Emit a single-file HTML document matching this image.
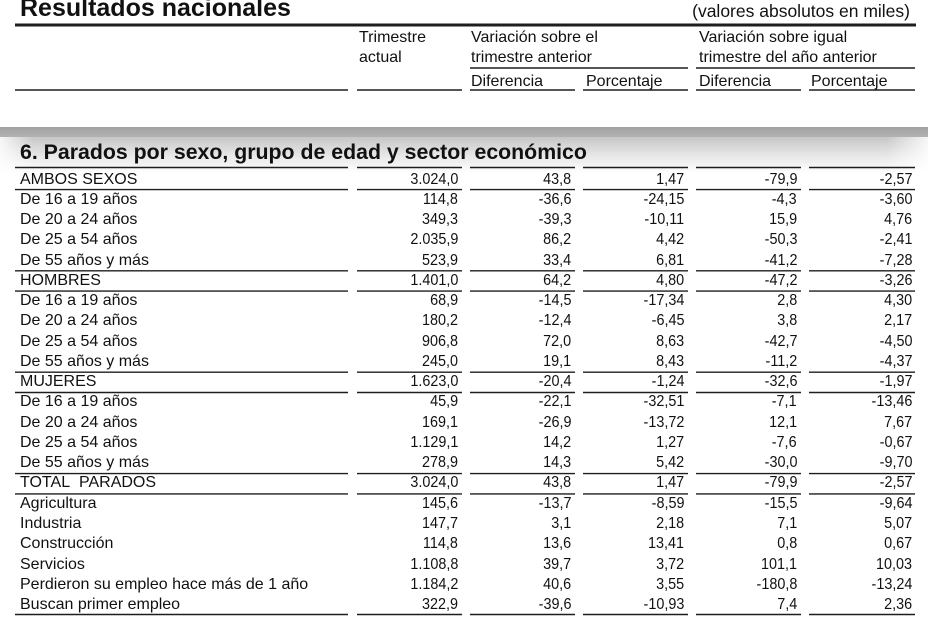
<!DOCTYPE html>
<html>
<head>
<meta charset="utf-8">
<style>
  html, body { margin:0; padding:0; }
  body { width:928px; height:621px; position:relative; overflow:hidden; background:#fff;
         font-family:"Liberation Sans", Arial, sans-serif; color:#111; }
  .abs { position:absolute; white-space:nowrap; }
  .h { font-size:16px; line-height:20px; }
  #rows { position:absolute; left:0; top:169.5px; width:928px; }
  .r { position:relative; height:20.28px; }
  .r div { position:absolute; top:0; height:20.28px; line-height:20px; white-space:nowrap; }
  .l { left:20px; font-size:16px; }
  .n { font-size:16px; text-align:right; }
  .n span { display:inline-block; transform:scaleX(0.9); transform-origin:right center; }
  .c1 { left:357px; width:101px; }
  .c2 { left:470px; width:101px; }
  .c3 { left:583px; width:101px; }
  .c4 { left:696px; width:101px; }
  .c5 { left:809px; width:103px; }
</style>
</head>
<body>

<svg class="abs" style="left:0;top:0" width="928" height="621" viewBox="0 0 928 621">
  <defs>
    <linearGradient id="g1" x1="0" y1="0" x2="0" y2="1">
      <stop offset="0" stop-color="#a2a2a2"/>
      <stop offset="1" stop-color="#b2b2b2"/>
    </linearGradient>
    <linearGradient id="g2" x1="0" y1="0" x2="0" y2="1">
      <stop offset="0" stop-color="#c6c6c6"/>
      <stop offset="0.5" stop-color="#e6e6e6"/>
      <stop offset="1" stop-color="#ffffff"/>
    </linearGradient>
    <linearGradient id="gl" x1="0" y1="0" x2="1" y2="0">
      <stop offset="0" stop-color="#fff" stop-opacity="0.85"/>
      <stop offset="1" stop-color="#fff" stop-opacity="0"/>
    </linearGradient>
    <linearGradient id="gr" x1="0" y1="0" x2="1" y2="0">
      <stop offset="0" stop-color="#fff" stop-opacity="0"/>
      <stop offset="1" stop-color="#fff" stop-opacity="0.85"/>
    </linearGradient>
  </defs>
  <rect x="0" y="127" width="928" height="10" fill="url(#g1)"/>
  <rect x="0" y="137" width="928" height="36" fill="url(#g2)"/>
  <rect x="0" y="137" width="34" height="36" fill="url(#gl)"/>
  <rect x="886" y="137" width="42" height="36" fill="url(#gr)"/>

  <g stroke="#1e1e1e" fill="none">
    <line x1="15" y1="25" x2="916" y2="25" stroke-width="3"/>
    <line x1="470" y1="68" x2="688" y2="68" stroke-width="1.4"/>
    <line x1="696" y1="68" x2="915" y2="68" stroke-width="1.4"/>
  </g>
  <g stroke="#1e1e1e" stroke-width="1.4">
    <line x1="15" y1="90" x2="348" y2="90"/><line x1="357" y1="90" x2="462" y2="90"/>
    <line x1="470" y1="90" x2="575" y2="90"/><line x1="583" y1="90" x2="688" y2="90"/>
    <line x1="696" y1="90" x2="801" y2="90"/><line x1="809" y1="90" x2="915" y2="90"/>

    <line x1="15" y1="167.5" x2="348" y2="167.5"/><line x1="357" y1="167.5" x2="462" y2="167.5"/>
    <line x1="470" y1="167.5" x2="575" y2="167.5"/><line x1="583" y1="167.5" x2="688" y2="167.5"/>
    <line x1="696" y1="167.5" x2="801" y2="167.5"/><line x1="809" y1="167.5" x2="915" y2="167.5"/>

    <line x1="15" y1="189.6" x2="348" y2="189.6"/><line x1="357" y1="189.6" x2="462" y2="189.6"/>
    <line x1="470" y1="189.6" x2="575" y2="189.6"/><line x1="583" y1="189.6" x2="688" y2="189.6"/>
    <line x1="696" y1="189.6" x2="801" y2="189.6"/><line x1="809" y1="189.6" x2="915" y2="189.6"/>

    <line x1="15" y1="270.8" x2="348" y2="270.8"/><line x1="357" y1="270.8" x2="462" y2="270.8"/>
    <line x1="470" y1="270.8" x2="575" y2="270.8"/><line x1="583" y1="270.8" x2="688" y2="270.8"/>
    <line x1="696" y1="270.8" x2="801" y2="270.8"/><line x1="809" y1="270.8" x2="915" y2="270.8"/>

    <line x1="15" y1="291.1" x2="348" y2="291.1"/><line x1="357" y1="291.1" x2="462" y2="291.1"/>
    <line x1="470" y1="291.1" x2="575" y2="291.1"/><line x1="583" y1="291.1" x2="688" y2="291.1"/>
    <line x1="696" y1="291.1" x2="801" y2="291.1"/><line x1="809" y1="291.1" x2="915" y2="291.1"/>

    <line x1="15" y1="372.2" x2="348" y2="372.2"/><line x1="357" y1="372.2" x2="462" y2="372.2"/>
    <line x1="470" y1="372.2" x2="575" y2="372.2"/><line x1="583" y1="372.2" x2="688" y2="372.2"/>
    <line x1="696" y1="372.2" x2="801" y2="372.2"/><line x1="809" y1="372.2" x2="915" y2="372.2"/>

    <line x1="15" y1="392.5" x2="348" y2="392.5"/><line x1="357" y1="392.5" x2="462" y2="392.5"/>
    <line x1="470" y1="392.5" x2="575" y2="392.5"/><line x1="583" y1="392.5" x2="688" y2="392.5"/>
    <line x1="696" y1="392.5" x2="801" y2="392.5"/><line x1="809" y1="392.5" x2="915" y2="392.5"/>

    <line x1="15" y1="473.6" x2="348" y2="473.6"/><line x1="357" y1="473.6" x2="462" y2="473.6"/>
    <line x1="470" y1="473.6" x2="575" y2="473.6"/><line x1="583" y1="473.6" x2="688" y2="473.6"/>
    <line x1="696" y1="473.6" x2="801" y2="473.6"/><line x1="809" y1="473.6" x2="915" y2="473.6"/>

    <line x1="15" y1="493.9" x2="348" y2="493.9"/><line x1="357" y1="493.9" x2="462" y2="493.9"/>
    <line x1="470" y1="493.9" x2="575" y2="493.9"/><line x1="583" y1="493.9" x2="688" y2="493.9"/>
    <line x1="696" y1="493.9" x2="801" y2="493.9"/><line x1="809" y1="493.9" x2="915" y2="493.9"/>

    <line x1="15" y1="614.5" x2="348" y2="614.5"/><line x1="357" y1="614.5" x2="462" y2="614.5"/>
    <line x1="470" y1="614.5" x2="575" y2="614.5"/><line x1="583" y1="614.5" x2="688" y2="614.5"/>
    <line x1="696" y1="614.5" x2="801" y2="614.5"/><line x1="809" y1="614.5" x2="915" y2="614.5"/>
  </g>
</svg>

<div class="abs" style="left:20px;top:-6.7px;font-size:25px;line-height:30px;font-weight:bold;">Resultados nacionales</div>
<div class="abs" style="right:18px;top:0.9px;font-size:17.5px;line-height:20px;">(valores absolutos en miles)</div>

<div class="abs h" style="left:359px;top:28px;">Trimestre</div>
<div class="abs h" style="left:359px;top:48.3px;">actual</div>
<div class="abs h" style="left:471px;top:28px;">Variación sobre el</div>
<div class="abs h" style="left:471px;top:48.3px;">trimestre anterior</div>
<div class="abs h" style="left:699px;top:28px;">Variación sobre igual</div>
<div class="abs h" style="left:699px;top:48.3px;">trimestre del año anterior</div>
<div class="abs h" style="left:471px;top:72px;">Diferencia</div>
<div class="abs h" style="left:586px;top:72px;">Porcentaje</div>
<div class="abs h" style="left:699px;top:72px;">Diferencia</div>
<div class="abs h" style="left:811px;top:72px;">Porcentaje</div>

<div class="abs" style="left:20px;top:140.2px;font-size:21.3px;line-height:24px;font-weight:bold;">6. Parados por sexo, grupo de edad y sector económico</div>

<div id="rows">
  <div class="r"><div class="l">AMBOS SEXOS</div><div class="n c1"><span>3.024,0</span></div><div class="n c2"><span>43,8</span></div><div class="n c3"><span>1,47</span></div><div class="n c4"><span>-79,9</span></div><div class="n c5"><span>-2,57</span></div></div>
  <div class="r"><div class="l">De 16 a 19 años</div><div class="n c1"><span>114,8</span></div><div class="n c2"><span>-36,6</span></div><div class="n c3"><span>-24,15</span></div><div class="n c4"><span>-4,3</span></div><div class="n c5"><span>-3,60</span></div></div>
  <div class="r"><div class="l">De 20 a 24 años</div><div class="n c1"><span>349,3</span></div><div class="n c2"><span>-39,3</span></div><div class="n c3"><span>-10,11</span></div><div class="n c4"><span>15,9</span></div><div class="n c5"><span>4,76</span></div></div>
  <div class="r"><div class="l">De 25 a 54 años</div><div class="n c1"><span>2.035,9</span></div><div class="n c2"><span>86,2</span></div><div class="n c3"><span>4,42</span></div><div class="n c4"><span>-50,3</span></div><div class="n c5"><span>-2,41</span></div></div>
  <div class="r"><div class="l">De 55 años y más</div><div class="n c1"><span>523,9</span></div><div class="n c2"><span>33,4</span></div><div class="n c3"><span>6,81</span></div><div class="n c4"><span>-41,2</span></div><div class="n c5"><span>-7,28</span></div></div>
  <div class="r"><div class="l">HOMBRES</div><div class="n c1"><span>1.401,0</span></div><div class="n c2"><span>64,2</span></div><div class="n c3"><span>4,80</span></div><div class="n c4"><span>-47,2</span></div><div class="n c5"><span>-3,26</span></div></div>
  <div class="r"><div class="l">De 16 a 19 años</div><div class="n c1"><span>68,9</span></div><div class="n c2"><span>-14,5</span></div><div class="n c3"><span>-17,34</span></div><div class="n c4"><span>2,8</span></div><div class="n c5"><span>4,30</span></div></div>
  <div class="r"><div class="l">De 20 a 24 años</div><div class="n c1"><span>180,2</span></div><div class="n c2"><span>-12,4</span></div><div class="n c3"><span>-6,45</span></div><div class="n c4"><span>3,8</span></div><div class="n c5"><span>2,17</span></div></div>
  <div class="r"><div class="l">De 25 a 54 años</div><div class="n c1"><span>906,8</span></div><div class="n c2"><span>72,0</span></div><div class="n c3"><span>8,63</span></div><div class="n c4"><span>-42,7</span></div><div class="n c5"><span>-4,50</span></div></div>
  <div class="r"><div class="l">De 55 años y más</div><div class="n c1"><span>245,0</span></div><div class="n c2"><span>19,1</span></div><div class="n c3"><span>8,43</span></div><div class="n c4"><span>-11,2</span></div><div class="n c5"><span>-4,37</span></div></div>
  <div class="r"><div class="l">MUJERES</div><div class="n c1"><span>1.623,0</span></div><div class="n c2"><span>-20,4</span></div><div class="n c3"><span>-1,24</span></div><div class="n c4"><span>-32,6</span></div><div class="n c5"><span>-1,97</span></div></div>
  <div class="r"><div class="l">De 16 a 19 años</div><div class="n c1"><span>45,9</span></div><div class="n c2"><span>-22,1</span></div><div class="n c3"><span>-32,51</span></div><div class="n c4"><span>-7,1</span></div><div class="n c5"><span>-13,46</span></div></div>
  <div class="r"><div class="l">De 20 a 24 años</div><div class="n c1"><span>169,1</span></div><div class="n c2"><span>-26,9</span></div><div class="n c3"><span>-13,72</span></div><div class="n c4"><span>12,1</span></div><div class="n c5"><span>7,67</span></div></div>
  <div class="r"><div class="l">De 25 a 54 años</div><div class="n c1"><span>1.129,1</span></div><div class="n c2"><span>14,2</span></div><div class="n c3"><span>1,27</span></div><div class="n c4"><span>-7,6</span></div><div class="n c5"><span>-0,67</span></div></div>
  <div class="r"><div class="l">De 55 años y más</div><div class="n c1"><span>278,9</span></div><div class="n c2"><span>14,3</span></div><div class="n c3"><span>5,42</span></div><div class="n c4"><span>-30,0</span></div><div class="n c5"><span>-9,70</span></div></div>
  <div class="r"><div class="l">TOTAL&nbsp; PARADOS</div><div class="n c1"><span>3.024,0</span></div><div class="n c2"><span>43,8</span></div><div class="n c3"><span>1,47</span></div><div class="n c4"><span>-79,9</span></div><div class="n c5"><span>-2,57</span></div></div>
  <div class="r"><div class="l">Agricultura</div><div class="n c1"><span>145,6</span></div><div class="n c2"><span>-13,7</span></div><div class="n c3"><span>-8,59</span></div><div class="n c4"><span>-15,5</span></div><div class="n c5"><span>-9,64</span></div></div>
  <div class="r"><div class="l">Industria</div><div class="n c1"><span>147,7</span></div><div class="n c2"><span>3,1</span></div><div class="n c3"><span>2,18</span></div><div class="n c4"><span>7,1</span></div><div class="n c5"><span>5,07</span></div></div>
  <div class="r"><div class="l">Construcción</div><div class="n c1"><span>114,8</span></div><div class="n c2"><span>13,6</span></div><div class="n c3"><span>13,41</span></div><div class="n c4"><span>0,8</span></div><div class="n c5"><span>0,67</span></div></div>
  <div class="r"><div class="l">Servicios</div><div class="n c1"><span>1.108,8</span></div><div class="n c2"><span>39,7</span></div><div class="n c3"><span>3,72</span></div><div class="n c4"><span>101,1</span></div><div class="n c5"><span>10,03</span></div></div>
  <div class="r"><div class="l">Perdieron su empleo hace más de 1 año</div><div class="n c1"><span>1.184,2</span></div><div class="n c2"><span>40,6</span></div><div class="n c3"><span>3,55</span></div><div class="n c4"><span>-180,8</span></div><div class="n c5"><span>-13,24</span></div></div>
  <div class="r"><div class="l">Buscan primer empleo</div><div class="n c1"><span>322,9</span></div><div class="n c2"><span>-39,6</span></div><div class="n c3"><span>-10,93</span></div><div class="n c4"><span>7,4</span></div><div class="n c5"><span>2,36</span></div></div>
</div>

</body>
</html>
